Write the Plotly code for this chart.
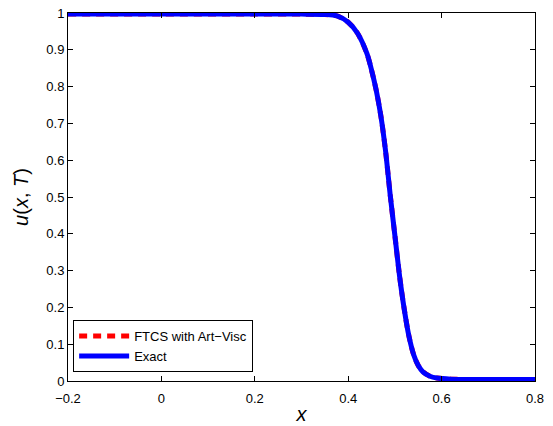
import plotly.graph_objects as go

x_vals = [-0.2, 0.0, 0.2, 0.3, 0.35, 0.376, 0.40, 0.42, 0.44, 0.45, 0.46, 0.47, 0.48, 0.49, 0.50, 0.51, 0.52, 0.53, 0.54, 0.55, 0.56, 0.575, 0.59, 0.62, 0.7, 0.8]
u_vals = [0.997, 0.997, 0.997, 0.997, 0.996, 0.992, 0.975, 0.945, 0.890, 0.845, 0.790, 0.720, 0.625, 0.505, 0.395, 0.285, 0.195, 0.122, 0.072, 0.042, 0.025, 0.013, 0.008, 0.005, 0.004, 0.004]

x_ticks = [-0.2, 0.0, 0.2, 0.4, 0.6, 0.8]
x_tick_text = ["\u22120.2", "0", "0.2", "0.4", "0.6", "0.8"]
y_ticks = [0, 0.1, 0.2, 0.3, 0.4, 0.5, 0.6, 0.7, 0.8, 0.9, 1.0]
y_tick_text = ["0", "0.1", "0.2", "0.3", "0.4", "0.5", "0.6", "0.7", "0.8", "0.9", "1"]

fig = go.Figure()
fig.add_trace(go.Scatter(x=x_vals, y=u_vals, mode="lines", name="FTCS with Art\u2212Visc",
                         line=dict(color="#ff0000", width=5, dash="8px,6px", shape="spline", smoothing=0.8)))
fig.add_trace(go.Scatter(x=x_vals, y=u_vals, mode="lines", name="Exact",
                         line=dict(color="#0000ff", width=5, shape="spline", smoothing=0.8)))

axis_common = dict(showgrid=False, zeroline=False, showline=True, linecolor="black", linewidth=1,
                   mirror="ticks", ticks="inside", ticklen=5, tickcolor="black", automargin=False,
                   tickfont=dict(family="Liberation Sans, Arial", size=13, color="black"))

fig.update_layout(
    width=553, height=426,
    margin=dict(l=68, r=18, t=13, b=45),
    paper_bgcolor="white", plot_bgcolor="white",
    xaxis=dict(range=[-0.2, 0.8], tickvals=x_ticks, ticktext=x_tick_text, ticklabelstandoff=5,
               title=dict(text="<i>x</i>", font=dict(family="Liberation Sans, Arial", size=20, color="black"), standoff=2),
               **axis_common),
    yaxis=dict(range=[0, 1], tickvals=y_ticks, ticktext=y_tick_text,
               title=dict(text="<i>u</i>(<i>x</i>, <i>T</i>)", font=dict(family="Liberation Sans, Arial", size=20, color="black"), standoff=12),
               **axis_common),
    legend=dict(x=0.011, y=0.024, xanchor="left", yanchor="bottom",
                bgcolor="white", bordercolor="black", borderwidth=1,
                font=dict(family="Liberation Sans, Arial", size=13, color="black"),
                tracegroupgap=0, itemwidth=50),
    showlegend=True,
)

fig.write_html("out.html")
